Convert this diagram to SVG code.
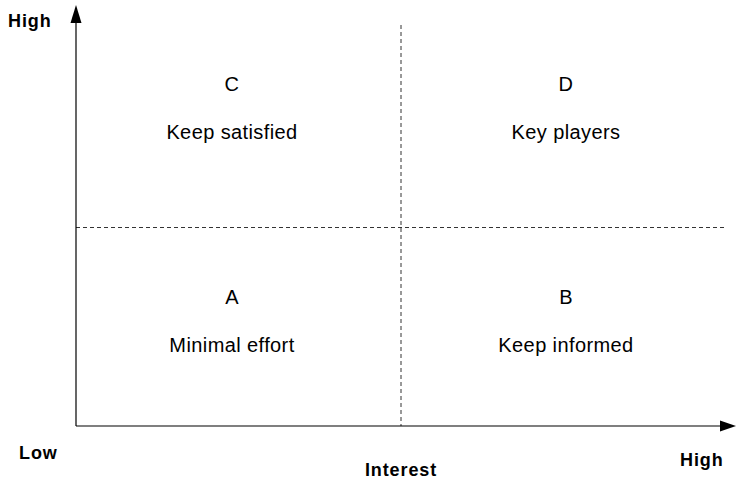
<svg xmlns="http://www.w3.org/2000/svg" width="736" height="479" viewBox="0 0 736 479">
<defs>
<style>
text{font-family:"Liberation Sans",Arial,sans-serif;font-size:20px;letter-spacing:0.4px;fill:#000;}
.b{font-weight:bold;font-size:18px;letter-spacing:0.9px;}
.q{text-anchor:middle;}
.axis{stroke:#000;stroke-width:1.2;fill:none;}
.dash{stroke:#333;stroke-width:1;stroke-dasharray:4 3;fill:none;}
</style>
</defs>
<rect width="736" height="479" fill="#fff"/>
<g id="connectors">
<line class="dash" x1="401" y1="25" x2="401" y2="426"/>
<line class="dash" x1="76" y1="227.5" x2="727" y2="227.5"/>
<path class="axis" d="M76,426 L76,20"/>
<path d="M70.5,23 L76,5 L81.5,23 z" fill="#000"/>
<path class="axis" d="M76,426 L722,426"/>
<path d="M720,420.5 L736,426 L720,431.5 z" fill="#000"/>
</g>
<g id="axis-labels">
<text class="b" x="8" y="27">High</text>
<text class="b" x="19" y="459">Low</text>
<text class="b" x="680" y="466">High</text>
<text class="b q" x="401" y="476">Interest</text>
</g>
<g id="quadrant-c">
<text class="q" x="232" y="91">C</text>
<text class="q" x="232" y="139">Keep satisfied</text>
</g>
<g id="quadrant-d">
<text class="q" x="566" y="91">D</text>
<text class="q" x="566" y="139">Key players</text>
</g>
<g id="quadrant-a">
<text class="q" x="232" y="304">A</text>
<text class="q" x="232" y="352">Minimal effort</text>
</g>
<g id="quadrant-b">
<text class="q" x="566" y="304">B</text>
<text class="q" x="566" y="352">Keep informed</text>
</g>
</svg>
